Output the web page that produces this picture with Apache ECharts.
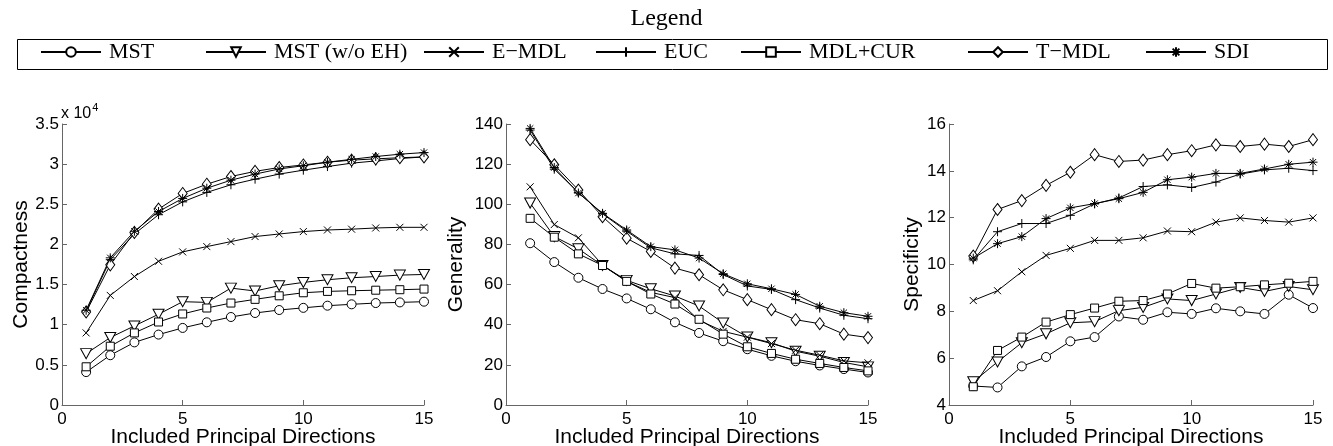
<!DOCTYPE html>
<html>
<head>
<meta charset="utf-8">
<script src="https://cdn.jsdelivr.net/npm/echarts@6/dist/echarts.min.js"></script>
<style>
  html, body { margin: 0; padding: 0; background: #fff; }
  #chart { width: 1333px; height: 446px; }
</style>
</head>
<body>
<div id="chart"></div>
<script>
// Number of included principal directions (x values)
const directions = [1, 2, 3, 4, 5, 6, 7, 8, 9, 10, 11, 12, 13, 14, 15];

const methodNames = ['MST', 'MST (w/o EH)', 'E\u2212MDL', 'EUC', 'MDL+CUR', 'T\u2212MDL', 'SDI'];

// Compactness (raw values; axis shows them in units of 10^4)
const compMST    = [4100, 6200, 7800, 8770, 9600, 10300, 10960, 11460, 11830, 12100, 12370, 12540, 12700, 12780, 12870];
const compMSTnoEH= [6400, 8400, 9850, 11300, 12870, 12780, 14560, 14200, 14850, 15270, 15600, 15850, 16000, 16180, 16260];
const compEMDL   = [8980, 13650, 16000, 17900, 19070, 19730, 20350, 20980, 21300, 21600, 21800, 21900, 22050, 22130, 22130];
const compEUC    = [11700, 18100, 21300, 23700, 25300, 26480, 27430, 28130, 28760, 29250, 29700, 30120, 30400, 30700, 30900];
const compMDLCUR = [4760, 7320, 8980, 10340, 11340, 12080, 12700, 13160, 13600, 13980, 14150, 14230, 14300, 14360, 14440];
const compTMDL   = [11580, 17460, 21500, 24400, 26350, 27500, 28460, 29100, 29580, 29900, 30240, 30500, 30660, 30800, 30900];
const compSDI    = [11800, 18330, 21640, 24100, 25730, 27000, 28000, 28760, 29400, 29800, 30240, 30600, 30950, 31240, 31440];

// Generality
const genMST    = [80.6, 71.2, 63.4, 57.8, 53.1, 47.7, 41.2, 35.9, 31.8, 27.8, 24.5, 21.8, 19.7, 17.9, 16.2];
const genMSTnoEH= [100.6, 83.9, 77.8, 69.5, 62.1, 57.9, 54.3, 49.3, 40.9, 33.9, 31.0, 26.8, 24.3, 21.2, 19.0];
const genEMDL   = [108.7, 89.9, 83.3, 69.7, 61.6, 56.1, 53.5, 42.2, 36.7, 33.8, 30.6, 27.3, 24.8, 22.0, 21.0];
const genEUC    = [137.0, 117.5, 105.9, 95.2, 86.6, 78.3, 75.3, 74.5, 65.0, 59.3, 57.6, 52.5, 48.3, 44.7, 43.0];
const genMDLCUR = [93.0, 83.6, 75.3, 69.5, 61.6, 55.3, 50.3, 42.7, 35.3, 29.0, 25.7, 22.8, 20.7, 18.7, 17.0];
const genTMDL   = [132.2, 119.7, 107.1, 93.8, 83.1, 76.5, 68.2, 64.9, 57.4, 52.5, 47.5, 42.5, 40.5, 35.3, 33.6];
const genSDI    = [137.8, 118.3, 105.6, 95.5, 87.2, 78.9, 77.3, 73.2, 65.4, 60.4, 57.9, 55.1, 49.2, 46.0, 44.2];

// Specificity
const specMST    = [4.81, 4.75, 5.65, 6.05, 6.72, 6.90, 7.78, 7.64, 7.96, 7.89, 8.13, 8.00, 7.89, 8.71, 8.14];
const specMSTnoEH= [4.99, 5.84, 6.66, 7.04, 7.51, 7.56, 8.03, 8.17, 8.53, 8.46, 8.74, 9.02, 8.85, 9.06, 8.92];
const specEMDL   = [8.46, 8.88, 9.69, 10.39, 10.69, 11.03, 11.03, 11.14, 11.43, 11.40, 11.81, 11.99, 11.88, 11.81, 11.99];
const specEUC    = [10.20, 11.40, 11.75, 11.75, 12.10, 12.59, 12.84, 13.33, 13.40, 13.29, 13.52, 13.86, 14.04, 14.11, 14.01];
const specMDLCUR = [4.78, 6.33, 6.90, 7.54, 7.86, 8.14, 8.43, 8.46, 8.74, 9.19, 8.99, 9.05, 9.13, 9.20, 9.28];
const specTMDL   = [10.36, 12.35, 12.73, 13.38, 13.94, 14.69, 14.40, 14.46, 14.69, 14.86, 15.11, 15.04, 15.14, 15.04, 15.33];
const specSDI    = [10.27, 10.89, 11.19, 11.96, 12.42, 12.60, 12.81, 13.08, 13.62, 13.73, 13.89, 13.89, 14.08, 14.28, 14.37];

const compactness = [compMST, compMSTnoEH, compEMDL, compEUC, compMDLCUR, compTMDL, compSDI];
const generality  = [genMST, genMSTnoEH, genEMDL, genEUC, genMDLCUR, genTMDL, genSDI];
const specificity = [specMST, specMSTnoEH, specEMDL, specEUC, specMDLCUR, specTMDL, specSDI];

// Marker shapes per method
const markers = [
  { symbol: 'circle', size: 9 },
  { symbol: 'path://M0,0L10,0L5,9Z', size: [11, 10] },
  { symbol: 'path://M0,0L10,10M10,0L0,10', size: 7 },
  { symbol: 'path://M5,0L5,10M0,5L10,5', size: 9 },
  { symbol: 'rect', size: 8 },
  { symbol: 'diamond', size: [9, 12] },
  { symbol: 'path://M5,0L5,10M0,5L10,5M1.5,1.5L8.5,8.5M8.5,1.5L1.5,8.5', size: 9 }
];

const axisGray = '#666';
const sansFont = '"Liberation Sans", Arial, sans-serif';
const serifFont = '"Liberation Serif", "Times New Roman", serif';

const grids = [
  { left: 62, top: 124, width: 362, height: 281, outerBoundsMode: 'none', containLabel: false },
  { left: 506, top: 124, width: 362, height: 281, outerBoundsMode: 'none', containLabel: false },
  { left: 949, top: 124, width: 364, height: 281, outerBoundsMode: 'none', containLabel: false }
];

function xAxis(i) {
  return {
    gridIndex: i, type: 'value', min: 0, max: 15, interval: 5,
    name: 'Included Principal Directions', nameLocation: 'middle', nameGap: 22,
    nameMoveOverlap: false,
    nameTextStyle: { fontFamily: sansFont, fontSize: 21, color: '#000' },
    axisLine: { lineStyle: { color: axisGray, width: 1 } },
    axisTick: { inside: true, length: 5, lineStyle: { color: axisGray } },
    axisLabel: { fontFamily: sansFont, fontSize: 17, color: '#000', margin: 6 },
    splitLine: { show: false }
  };
}

function yAxis(i, name, min, max, interval, gap, fmt) {
  return {
    gridIndex: i, type: 'value', min: min, max: max, interval: interval,
    name: name, nameLocation: 'middle', nameGap: gap, nameRotate: 90,
    nameTextStyle: { fontFamily: sansFont, fontSize: 21, color: '#000' },
    axisLine: { show: true, lineStyle: { color: axisGray, width: 1 } },
    axisTick: { show: true, inside: true, length: 5, lineStyle: { color: axisGray } },
    axisLabel: { fontFamily: sansFont, fontSize: 17, color: '#000', margin: 3, formatter: fmt },
    splitLine: { show: false }
  };
}

const series = [];
[compactness, generality, specificity].forEach(function (panel, p) {
  panel.forEach(function (values, m) {
    series.push({
      name: methodNames[m],
      type: 'line',
      xAxisIndex: p, yAxisIndex: p,
      data: directions.map(function (d, k) { return [d, values[k]]; }),
      symbol: markers[m].symbol,
      symbolSize: markers[m].size,
      showAllSymbol: true,
      animation: false,
      lineStyle: { color: '#000', width: 1 },
      itemStyle: { color: '#fff', borderColor: '#000', borderWidth: 1 },
      emphasis: { disabled: true },
      z: 2 + m
    });
  });
});

// One legend block per method so each entry sits at its own position
const legendLefts = [40, 205, 423, 595, 740, 967, 1145];
const legends = methodNames.map(function (n, i) {
  return {
    data: [n], left: legendLefts[i], top: 41,
    itemWidth: 60, itemHeight: 12, padding: 0,
    selectedMode: false,
    textStyle: { fontFamily: serifFont, fontSize: 22, color: '#000', padding: [0, 0, 0, 3] }
  };
});

const chart = echarts.init(document.getElementById('chart'), null, { renderer: 'canvas' });
chart.setOption({
  backgroundColor: '#fff',
  animation: false,
  title: {
    text: 'Legend', left: 'center', top: 2,
    textStyle: { fontFamily: serifFont, fontSize: 24, fontWeight: 'normal', color: '#000' }
  },
  legend: legends,
  grid: grids,
  xAxis: [xAxis(0), xAxis(1), xAxis(2)],
  yAxis: [
    yAxis(0, 'Compactness', 0, 35000, 5000, 30, function (v) { return String(v / 10000); }),
    yAxis(1, 'Generality', 0, 140, 20, 39),
    yAxis(2, 'Specificity', 4, 16, 2, 26)
  ],
  series: series,
  graphic: [
    {
      type: 'rect', left: 15, top: 37, z: 0,
      shape: { width: 1310, height: 30 },
      style: { fill: 'none', stroke: '#000', lineWidth: 1 }
    },
    {
      type: 'text', left: 61, top: 102,
      style: {
        text: '{a|x 10}{b|4}',
        rich: {
          a: { fontFamily: sansFont, fontSize: 16, color: '#000', verticalAlign: 'bottom' },
          b: { fontFamily: sansFont, fontSize: 11, color: '#000', verticalAlign: 'top', padding: [0, 0, 9, 1] }
        }
      }
    }
  ]
});
</script>
</body>
</html>
